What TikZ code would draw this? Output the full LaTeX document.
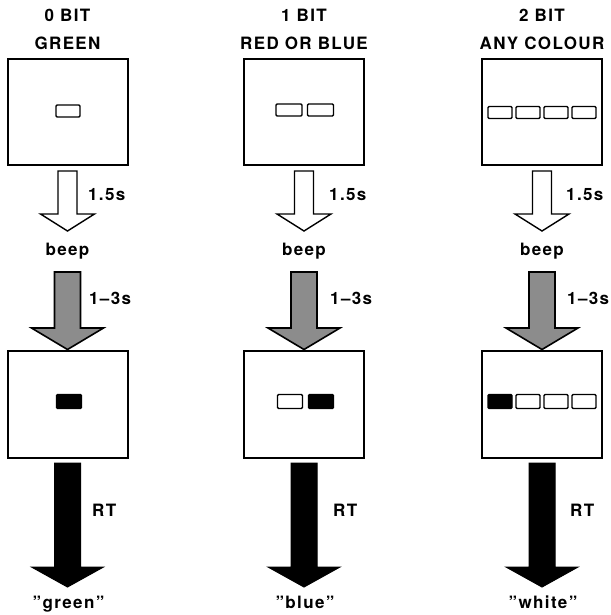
\documentclass[tikz,border=0pt]{standalone}
\usepackage{fontspec}
\setmainfont{TeX Gyre Heros}[LetterSpace=8]
\begin{document}
\begin{tikzpicture}[x=1pt,y=-1pt,
  lbl/.style={font=\bfseries\fontsize{17}{19}\selectfont, inner sep=0pt, anchor=base},
  rlbl/.style={lbl, anchor=base west},
  screen/.style={draw=black, line width=2pt, fill=white},
  lamp/.style={draw=black, line width=1.4pt, rounded corners=1.2pt, fill=white},
  lampon/.style={lamp, fill=black},
  warrow/.style={draw=black, line width=1.4pt, fill=white, line join=miter},
  garrow/.style={draw=black, line width=1.6pt, fill=black!45, line join=miter},
  barrow/.style={draw=black, line width=1pt, fill=black, line join=miter}]
\useasboundingbox (0,0) rectangle (610,615);

% column centres: 67.5, 304, 542
\foreach \c/\na/\nb/\lx/\word [count=\i] in {67.5/0 BIT/GREEN/88/"green",304/1 BIT/RED OR BLUE/329/"blue",542/2 BIT/ANY COLOUR/566/"white"}{
  \node[lbl] (t\i a) at (\c,22) {\na};
  \node[lbl] (t\i b) at (\c,50) {\nb};
  \node[screen, minimum width=120pt, minimum height=105pt, inner sep=0pt] (s\i a) at (\c,112) {};
  \node[screen, minimum width=120pt, minimum height=107pt, inner sep=0pt] (s\i b) at (\c,404) {};
  % white arrow
  \draw[warrow] (\c-9.5,171) -- (\c+9.5,171) -- (\c+9.5,214) -- (\c+27,214) -- (\c,231) -- (\c-27,214) -- (\c-9.5,214) -- cycle;
  \node[rlbl] (d\i) at (\lx,200) {1.5s};
  \node[lbl] (b\i) at (\c,255) {beep};
  % grey arrow
  \draw[garrow] (\c-13,272) -- (\c+13,272) -- (\c+13,328) -- (\c+36,328) -- (\c,349.5) -- (\c-36,328) -- (\c-13,328) -- cycle;
  \node[rlbl] (e\i) at (\lx+1,304) {1--3s};
  % black arrow
  \draw[barrow] (\c-13,463) -- (\c+13,463) -- (\c+13,567) -- (\c+36,567) -- (\c,587) -- (\c-36,567) -- (\c-13,567) -- cycle;
  \node[rlbl] (r\i) at (\lx+4,516) {RT};
  \node[lbl] (w\i) at (\c+1,608) {\word};
}

% lamps, top screens
\node[lamp, minimum width=24pt, minimum height=12pt, inner sep=0pt] (l1) at (68,111) {};
\node[lamp, minimum width=26pt, minimum height=12pt, inner sep=0pt] (l2a) at (289,110) {};
\node[lamp, minimum width=26pt, minimum height=12pt, inner sep=0pt] (l2b) at (320.5,110) {};
\foreach \x [count=\k] in {500,528,556,584}
  \node[lamp, minimum width=24pt, minimum height=12pt, inner sep=0pt] (l3\k) at (\x,112.5) {};

% lamps, bottom screens
\node[lampon, minimum width=25pt, minimum height=14pt, inner sep=0pt] (m1) at (69,401.5) {};
\node[lamp, minimum width=25pt, minimum height=14pt, inner sep=0pt] (m2a) at (290,401.5) {};
\node[lampon, minimum width=25pt, minimum height=14pt, inner sep=0pt] (m2b) at (321,401.5) {};
\node[lampon, minimum width=24pt, minimum height=14pt, inner sep=0pt] (m31) at (500,401.5) {};
\foreach \x [count=\k from 2] in {528,556,584}
  \node[lamp, minimum width=24pt, minimum height=14pt, inner sep=0pt] (m3\k) at (\x,401.5) {};
\end{tikzpicture}
\end{document}
